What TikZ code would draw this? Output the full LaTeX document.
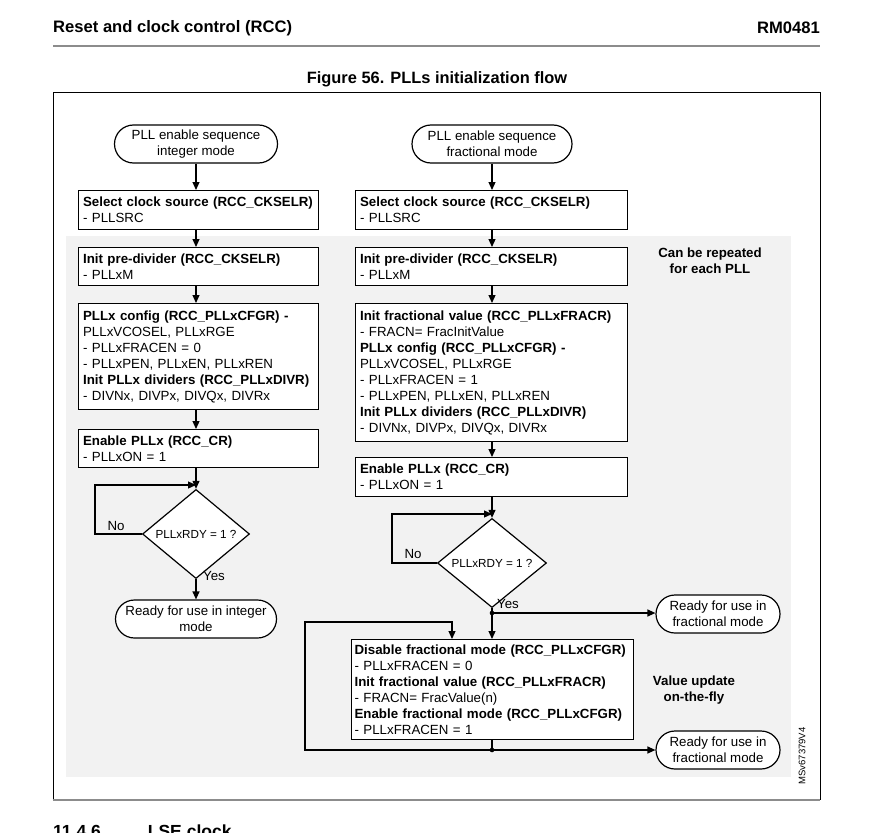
\documentclass[tikz,border=0pt]{standalone}
\usepackage{fontspec}
\setmainfont{Liberation Sans}
\usetikzlibrary{shapes.geometric,shapes.misc,arrows.meta}
\definecolor{bgshade}{HTML}{F2F2F2}
\definecolor{rulegray}{HTML}{8C8C8C}
\begin{document}
\begin{tikzpicture}[x=1pt,y=-1pt,
  every node/.style={font=\fontsize{13.3}{16}\selectfont},
  box/.style={draw, line width=1.2pt, fill=white, anchor=north west, inner xsep=4.5pt, inner ysep=2pt, align=left},
  term/.style={draw, line width=1.2pt, fill=white, rounded rectangle, align=center, inner sep=1pt},
  dec/.style={draw, line width=1.2pt, fill=white, diamond, inner sep=0pt, font=\fontsize{11.7}{13}\selectfont},
  arr/.style={line width=1.2pt, -{Triangle[length=8pt,width=7pt]}},
  ln/.style={line width=1.2pt},
  lbl/.style={inner sep=0pt},
  bold/.style={font=\fontsize{13.3}{16}\selectfont\bfseries, align=center, inner sep=0pt}
]
\useasboundingbox (0,0) rectangle (872,832);
% header
\node[anchor=west, inner sep=0pt, font=\fontsize{16.6}{19}\selectfont\bfseries] (hdr) at (53,28) {Reset and clock control (RCC)};
\node[anchor=east, inner sep=0pt, font=\fontsize{16.6}{19}\selectfont\bfseries] (rm) at (820,28) {RM0481};
\draw[rulegray, line width=1.6pt] (53,46) -- (820,46);
\node[inner sep=0pt, font=\fontsize{16.4}{19}\selectfont\bfseries] (title) at (437,79) {Figure 56. PLLs initialization flow};
% frame
\fill[bgshade] (66,236) rectangle (791,777);
\draw[line width=0.8pt] (53,800) -- (53,92) -- (820,92) -- (820,800);
\draw[rulegray, line width=2pt] (52.6,800) -- (820.4,800);
\node[anchor=base west, inner sep=0pt, font=\fontsize{17.5}{20}\selectfont\bfseries] (sec) at (53,837) {11.4.6\hspace{47pt}LSE clock};
\node[rotate=90, inner sep=0pt, font=\fontsize{9.5}{11}\selectfont] (ref) at (802,756) {MSv67379V4};

% left column
\node[term, minimum width=165pt, minimum height=38pt] (ls) at (196,144) {PLL enable sequence\\integer mode};
\node[box, text width=231pt, minimum height=39pt] (l1) at (78,190) {\textbf{Select clock source (RCC\_CKSELR)}\\- PLLSRC};
\node[box, text width=231pt, minimum height=38pt] (l2) at (78,247) {\textbf{Init pre-divider (RCC\_CKSELR)}\\- PLLxM};
\node[box, text width=231pt, minimum height=106pt] (l3) at (78,303) {\textbf{PLLx config (RCC\_PLLxCFGR) -}\\PLLxVCOSEL, PLLxRGE\\- PLLxFRACEN = 0\\- PLLxPEN, PLLxEN, PLLxREN\\\textbf{Init PLLx dividers (RCC\_PLLxDIVR)}\\- DIVNx, DIVPx, DIVQx, DIVRx};
\node[box, text width=231pt, minimum height=38pt] (l4) at (78,429) {\textbf{Enable PLLx (RCC\_CR)}\\- PLLxON = 1};
\node[dec, minimum width=107pt, minimum height=60pt] (ld) at (196,534) {PLLxRDY = 1 ?};
\node[term, minimum width=163pt, minimum height=38pt] (le) at (196,619) {Ready for use in integer\\mode};
\node[lbl] (lno) at (116,526) {No};
\node[lbl] (lyes) at (214,576) {Yes};
\coordinate (lj) at (196,485);
\coordinate (lc) at (95,485);
\draw[arr] (ls.south) -- (ls.south |- l1.north);
\draw[arr] (ls.south |- l1.south) -- (ls.south |- l2.north);
\draw[arr] (ls.south |- l2.south) -- (ls.south |- l3.north);
\draw[arr] (ls.south |- l3.south) -- (ls.south |- l4.north);
\draw[arr] (ls.south |- l4.south) -- (ld.north);
\draw[arr] (ld.west) -| (lc) -- (lj);
\draw[arr] (ld.south) -- (le.north);

% right column
\node[term, minimum width=162pt, minimum height=38pt] (rs) at (492,144) {PLL enable sequence\\fractional mode};
\node[box, text width=263pt, minimum height=39pt] (r1) at (355,190) {\textbf{Select clock source (RCC\_CKSELR)}\\- PLLSRC};
\node[box, text width=263pt, minimum height=38pt] (r2) at (355,247) {\textbf{Init pre-divider (RCC\_CKSELR)}\\- PLLxM};
\node[box, text width=263pt, minimum height=138pt] (r3) at (355,303) {\textbf{Init fractional value (RCC\_PLLxFRACR)}\\- FRACN= FracInitValue\\\textbf{PLLx config (RCC\_PLLxCFGR) -}\\PLLxVCOSEL, PLLxRGE\\- PLLxFRACEN = 1\\- PLLxPEN, PLLxEN, PLLxREN\\\textbf{Init PLLx dividers (RCC\_PLLxDIVR)}\\- DIVNx, DIVPx, DIVQx, DIVRx};
\node[box, text width=263pt, minimum height=39pt] (r4) at (355,457) {\textbf{Enable PLLx (RCC\_CR)}\\- PLLxON = 1};
\node[dec, minimum width=109pt, minimum height=60pt] (rd) at (492,563) {PLLxRDY = 1 ?};
\node[lbl] (rno) at (413,554) {No};
\node[lbl] (ryes) at (508,604) {Yes};
\node[term, minimum width=126pt, minimum height=38pt] (rr1) at (718,614) {Ready for use in\\fractional mode};
\node[box, text width=276pt, inner xsep=3pt, minimum height=100pt] (r5) at (351,639) {\textbf{Disable fractional mode (RCC\_PLLxCFGR)}\\- PLLxFRACEN = 0\\\textbf{Init fractional value (RCC\_PLLxFRACR)}\\- FRACN= FracValue(n)\\\textbf{Enable fractional mode (RCC\_PLLxCFGR)}\\- PLLxFRACEN = 1};
\node[term, minimum width=126pt, minimum height=38pt] (rr2) at (718,750) {Ready for use in\\fractional mode};
\node[bold] (rep) at (710,261) {Can be repeated\\for each PLL};
\node[bold] (upd) at (694,690) {Value update\\on-the-fly};
\coordinate (rj) at (492,514);
\coordinate (rc) at (392,514);
\coordinate (rdot) at (492,613);
\coordinate (rdot2) at (492,750);
\coordinate (rb1) at (305,750);
\coordinate (rb2) at (305,622);
\coordinate (rb3) at (452,622);
\draw[arr] (rs.south) -- (rs.south |- r1.north);
\draw[arr] (rs.south |- r1.south) -- (rs.south |- r2.north);
\draw[arr] (rs.south |- r2.south) -- (rs.south |- r3.north);
\draw[arr] (rs.south |- r3.south) -- (rs.south |- r4.north);
\draw[arr] (rs.south |- r4.south) -- (rd.north);
\draw[arr] (rd.west) -| (rc) -- (rj);
\draw[ln] (rd.south) -- (rdot);
\draw[arr] (rdot) -- (rdot -| rr1.west);
\draw[arr] (rdot) -- (rdot |- r5.north);
\fill (rdot) circle (2.3pt);
\draw[ln] (rdot |- r5.south) -- (rdot2);
\draw[arr] (rdot2) -- (rdot2 -| rr2.west);
\draw[arr] (rdot2) -- (rb1) -- (rb2) -- (rb3) -- (rb3 |- r5.north);
\fill (rdot2) circle (2.3pt);
\end{tikzpicture}
\end{document}
